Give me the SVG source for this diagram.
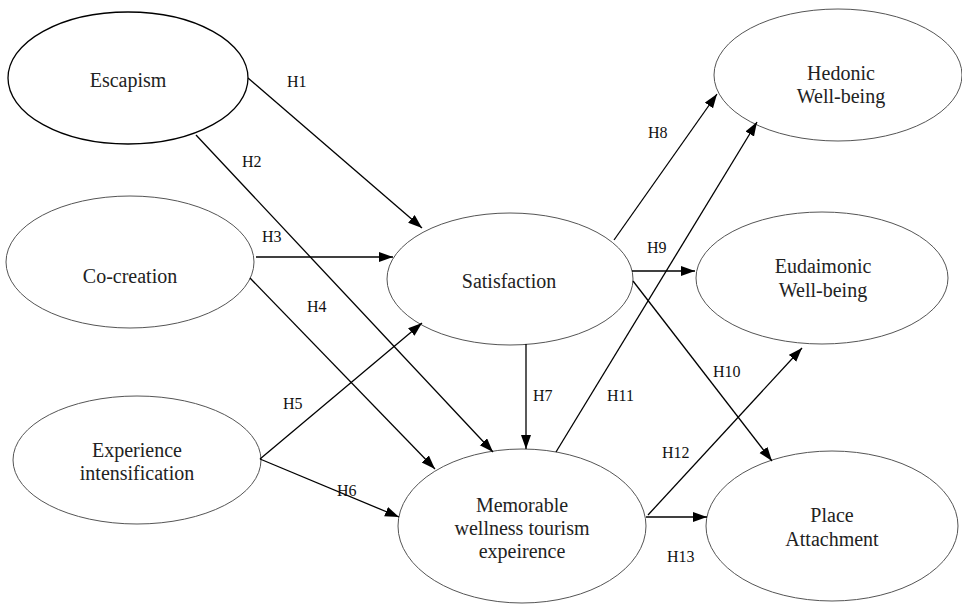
<svg xmlns="http://www.w3.org/2000/svg" width="962" height="605" viewBox="0 0 962 605">
<style>
.n{fill:#fff;stroke:#555;stroke-width:1}
.nb{fill:#fff;stroke:#000;stroke-width:1.3}
.t{font-size:20px;fill:#222;text-anchor:middle}
.h{font-size:16px;fill:#111}
.c line{stroke:#000;stroke-width:1.3;marker-end:url(#a)}
</style>
<defs>
<marker id="a" markerUnits="userSpaceOnUse" markerWidth="15" markerHeight="11" refX="14" refY="5" orient="auto">
<path d="M0,0 L14,5 L0,10 z" fill="#000"/>
</marker>
</defs>
<rect width="962" height="605" fill="#fff"/>
<g font-family="'Liberation Serif', 'DejaVu Serif', 'Times New Roman', serif">
<g id="escapism"><ellipse class="nb" cx="128" cy="78" rx="120" ry="66"/><text class="t" x="128" y="87">Escapism</text></g>
<g id="cocreation"><ellipse class="n" cx="130" cy="262" rx="124" ry="66"/><text class="t" x="130" y="283">Co-creation</text></g>
<g id="experience"><ellipse class="n" cx="137" cy="460" rx="124" ry="64"/><text class="t" x="137" y="457">Experience</text><text class="t" x="137" y="480">intensification</text></g>
<g id="satisfaction"><ellipse class="n" cx="510" cy="279" rx="123" ry="66"/><text class="t" x="509" y="288">Satisfaction</text></g>
<g id="hedonic"><ellipse class="n" cx="838" cy="75" rx="124" ry="66"/><text class="t" x="841" y="80">Hedonic</text><text class="t" x="841" y="103">Well-being</text></g>
<g id="eudaimonic"><ellipse class="n" cx="822" cy="278" rx="126" ry="66"/><text class="t" x="823" y="273">Eudaimonic</text><text class="t" x="823" y="297">Well-being</text></g>
<g id="memorable"><ellipse class="n" cx="522" cy="526" rx="124" ry="77"/><text class="t" x="522" y="512">Memorable</text><text class="t" x="522" y="535">wellness tourism</text><text class="t" x="522" y="558">expeirence</text></g>
<g id="place"><ellipse class="n" cx="832" cy="526" rx="126" ry="75"/><text class="t" x="832" y="522">Place</text><text class="t" x="832" y="546">Attachment</text></g>
<g id="connectors" class="c">
<line x1="248" y1="78" x2="422" y2="228"/>
<line x1="196" y1="135" x2="493" y2="452"/>
<line x1="256" y1="257" x2="393" y2="257"/>
<line x1="250" y1="278" x2="435" y2="469"/>
<line x1="260" y1="459" x2="422" y2="323"/>
<line x1="260" y1="459" x2="399" y2="517"/>
<line x1="526" y1="344" x2="526" y2="449"/>
<line x1="614" y1="240" x2="717" y2="94"/>
<line x1="556" y1="452" x2="757" y2="122"/>
<line x1="632" y1="271" x2="695" y2="271"/>
<line x1="633" y1="281" x2="772" y2="461"/>
<line x1="648" y1="515" x2="802" y2="348"/>
<line x1="646" y1="517" x2="707" y2="517"/>
</g>
<g id="labels">
<text class="h" x="287" y="87">H1</text>
<text class="h" x="242" y="167">H2</text>
<text class="h" x="262" y="242">H3</text>
<text class="h" x="307" y="312">H4</text>
<text class="h" x="283" y="409">H5</text>
<text class="h" x="337" y="496">H6</text>
<text class="h" x="533" y="401">H7</text>
<text class="h" x="648" y="138">H8</text>
<text class="h" x="647" y="253">H9</text>
<text class="h" x="713" y="377">H10</text>
<text class="h" x="607" y="401">H11</text>
<text class="h" x="662" y="458">H12</text>
<text class="h" x="667" y="562">H13</text>
</g>
</g>
</svg>
